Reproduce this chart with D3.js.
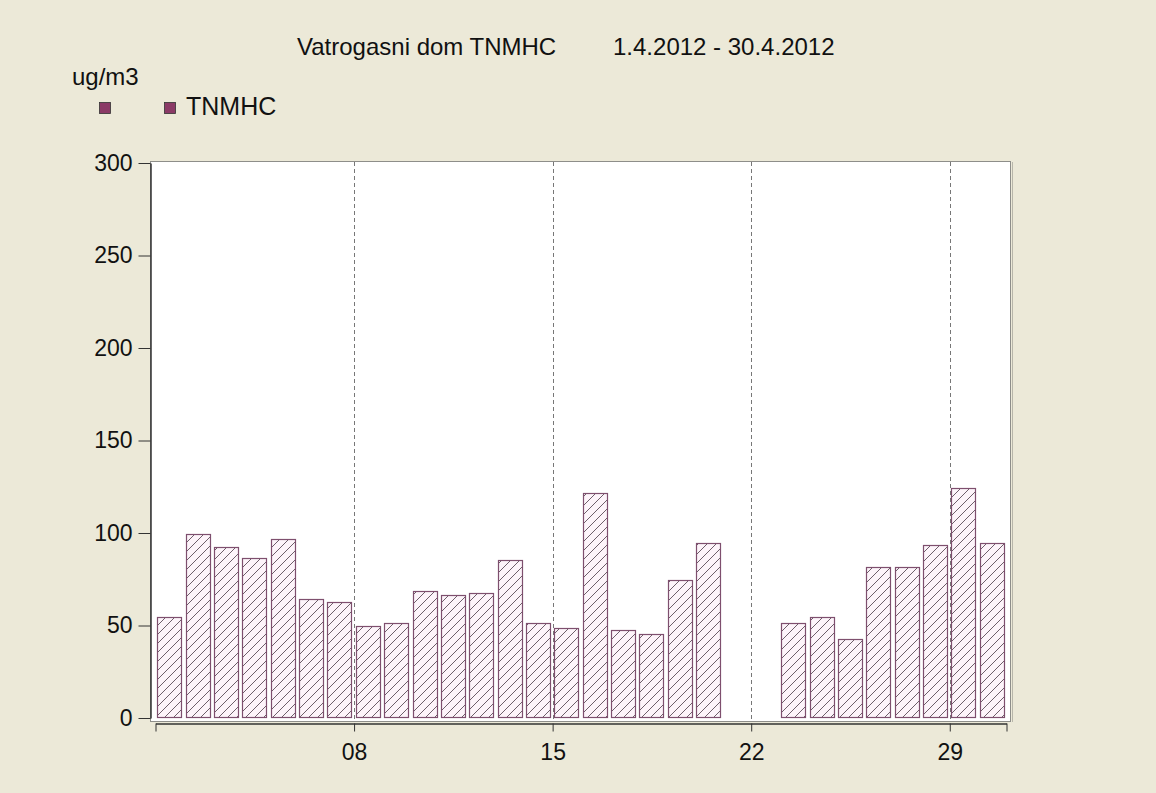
<!DOCTYPE html>
<html>
<head>
<meta charset="utf-8">
<script src="https://cdn.jsdelivr.net/npm/d3@7"></script>
<style>
  body { margin: 0; background: #ece9d8; }
  svg { display: block; font-family: "Liberation Sans", Arial, sans-serif; }
</style>
</head>
<body>
<svg id="chart" width="1156" height="793"></svg>
<script>
// daily values, ug/m3 (null = no measurement)
const days = d3.range(1, 31);
const values = [54, 99, 92, 86, 96, 64, 62, 49, 51, 68,
                66, 67, 85, 51, 48, 121, 47, 45, 74, 94,
                null, null, 51, 54, 42, 81, 81, 93, 124, 94];
const yTicks = [0, 50, 100, 150, 200, 250, 300];
const xTickDays = [1, 8, 15, 22, 29, 31];
const xTickLabels = ["", "08", "15", "22", "29", ""];
const gridDays = [8, 15, 22, 29];

const svg = d3.select('#chart');
const plotLeft = 155.5, plotRight = 1006.5, plotTop = 162, plotBottom = 717;

const x = d3.scaleBand().domain(days).range([plotLeft, plotRight])
  .paddingInner(0.12).paddingOuter(0.06);
const xDay = d3.scaleLinear().domain([1, 31]).range([plotLeft, plotRight]);
const y = d3.scaleLinear().domain([0, 300]).range([plotBottom, plotTop]);

// hatch pattern
const defs = svg.append('defs');
const pat = defs.append('pattern')
  .attr('id', 'hatch').attr('patternUnits', 'userSpaceOnUse')
  .attr('width', 9).attr('height', 9);
pat.append('rect').attr('width', 9).attr('height', 9).attr('fill', '#fdf4fa');
pat.append('path')
  .attr('d', 'M0,9 L9,0 M-2,2 L2,-2 M7,11 L11,7')
  .attr('stroke', '#5e4e5a').attr('stroke-width', 0.9);

// title
svg.append('text').attr('x', 297).attr('y', 55)
  .attr('font-size', 24).attr('fill', '#111').text('Vatrogasni dom TNMHC');
svg.append('text').attr('x', 613).attr('y', 55)
  .attr('font-size', 24).attr('fill', '#111').text('1.4.2012 - 30.4.2012');

// unit + legend
svg.append('text').attr('x', 72).attr('y', 85)
  .attr('font-size', 24).attr('fill', '#111').text('ug/m3');
[99, 164].forEach(lx => {
  svg.append('rect').attr('x', lx + 0.5).attr('y', 102.5).attr('width', 11).attr('height', 11)
    .attr('fill', '#8b3a66').attr('stroke', '#333').attr('stroke-width', 0.8);
});
svg.append('text').attr('x', 186).attr('y', 115)
  .attr('font-size', 25).attr('fill', '#111').text('TNMHC');

// plot frame
svg.append('rect').attr('x', 150.5).attr('y', 161.5)
  .attr('width', 860).attr('height', 560)
  .attr('fill', '#fff').attr('stroke', '#8e8e8a').attr('stroke-width', 1);
svg.append('line').attr('x1', 1012.5).attr('x2', 1012.5).attr('y1', 162).attr('y2', 722)
  .attr('stroke', '#b8b6aa');

// grid lines
svg.append('g').selectAll('line').data(gridDays).join('line')
  .attr('x1', d => Math.round(xDay(d)) + 0.5)
  .attr('x2', d => Math.round(xDay(d)) + 0.5)
  .attr('y1', plotTop).attr('y2', 721)
  .attr('stroke', '#777').attr('stroke-dasharray', '4,3');

// bars
svg.append('g').selectAll('rect')
  .data(days.filter((d, i) => values[i] !== null))
  .join('rect')
  .attr('x', d => Math.round(x(d)) + 0.5)
  .attr('y', d => Math.round(y(values[d - 1])) + 0.5)
  .attr('width', Math.round(x.bandwidth()) - 1)
  .attr('height', d => Math.round(plotBottom - y(values[d - 1])))
  .attr('fill', 'url(#hatch)')
  .attr('stroke', '#7e4f6e').attr('stroke-width', 1.2);

// y axis
const yAxis = svg.append('g').attr('transform', 'translate(150.5,1)')
  .call(d3.axisLeft(y).tickValues(yTicks).tickSize(12).tickSizeOuter(0));
yAxis.select('.domain').attr('stroke', '#333').attr('stroke-width', 1.5);
yAxis.selectAll('.tick line').attr('stroke', '#333');
yAxis.selectAll('.tick text').attr('font-size', 23).attr('fill', '#111')
  .attr('font-family', '"Liberation Sans", Arial, sans-serif').attr('x', -18);

// x axis
const xAxis = svg.append('g').attr('transform', 'translate(0,723.5)')
  .call(d3.axisBottom(xDay).tickValues(xTickDays)
    .tickFormat((d, i) => xTickLabels[i]).tickSize(8).tickSizeOuter(0));
xAxis.select('.domain').attr('stroke', '#333').attr('stroke-width', 1.5);
xAxis.selectAll('.tick line').attr('stroke', '#333');
xAxis.selectAll('.tick text').attr('font-size', 23).attr('fill', '#111')
  .attr('font-family', '"Liberation Sans", Arial, sans-serif').attr('y', 20);
</script>
</body>
</html>
